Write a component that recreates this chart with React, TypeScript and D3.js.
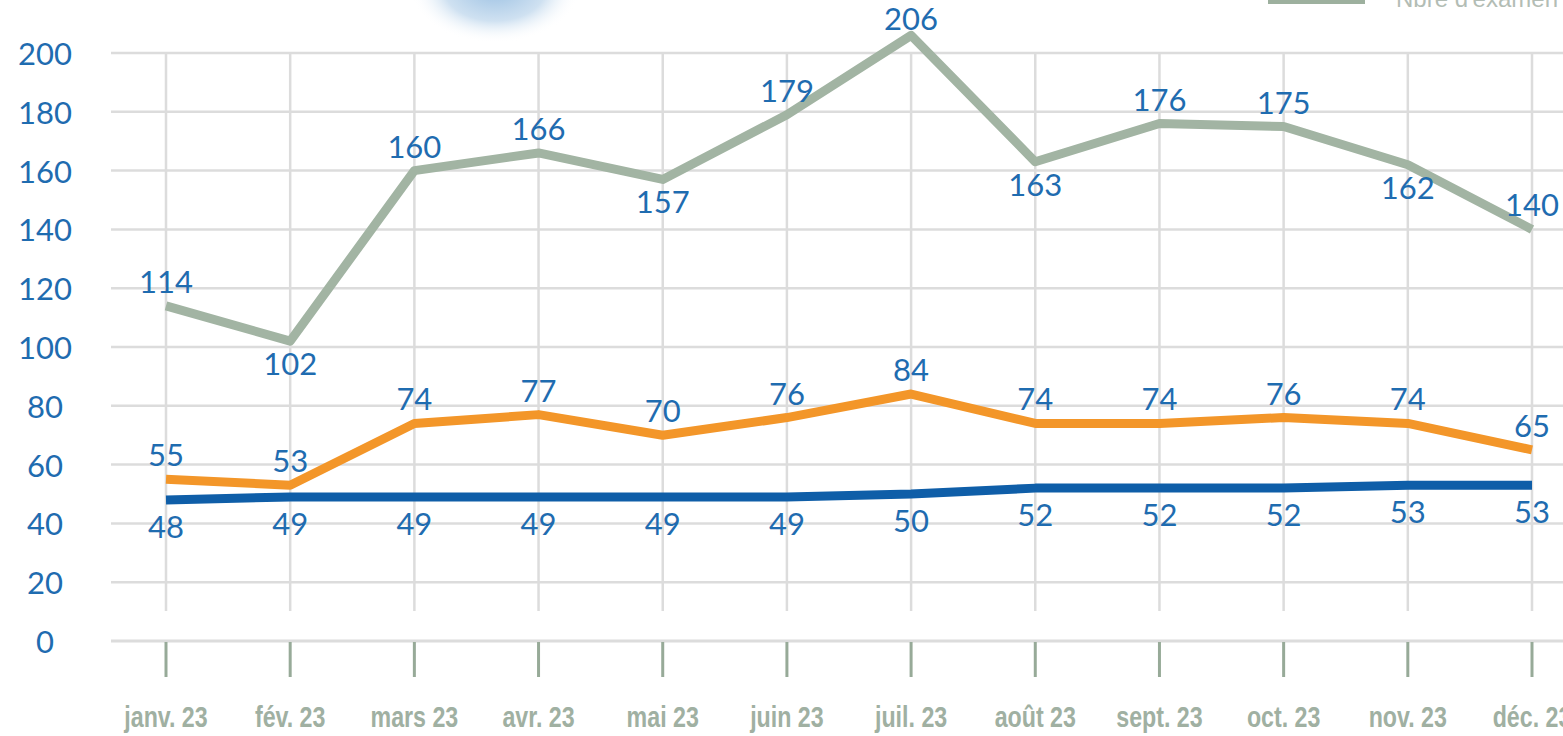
import React from 'react'
import * as d3 from 'd3'

const months = ['janv. 23', 'fév. 23', 'mars 23', 'avr. 23', 'mai 23', 'juin 23', 'juil. 23', 'août 23', 'sept. 23', 'oct. 23', 'nov. 23', 'déc. 23']
const examens = [114, 102, 160, 166, 157, 179, 206, 163, 176, 175, 162, 140]
const orangeSerie = [55, 53, 74, 77, 70, 76, 84, 74, 74, 76, 74, 65]
const blueSerie = [48, 49, 49, 49, 49, 49, 50, 52, 52, 52, 53, 53]
// label sits above (1) or below (-1) the grey line
const examensSide = [1, -1, 1, 1, -1, 1, 1, -1, 1, 1, -1, 1]
const yTicks = [0, 20, 40, 60, 80, 100, 120, 140, 160, 180, 200]

const W = 1563
const H = 736

export default function App() {
    const x = d3.scalePoint<string>().domain(months).range([166, 1532])
    const y = d3.scaleLinear().domain([0, 200]).range([641, 53])

    const line = d3.line<number>()
        .x((d, i) => x(months[i]) as number)
        .y(d => y(d))

    const series = [
        { values: examens, color: '#a2b4a3', sides: examensSide },
        { values: orangeSerie, color: '#f39629', sides: orangeSerie.map(() => 1) },
        { values: blueSerie, color: '#0f5ea8', sides: blueSerie.map(() => -1) },
    ]

    const labelFont = 'Lato, "Open Sans", sans-serif'

    return (
        <svg width={W} height={H} style={{ position: 'absolute', left: 0, top: 0, background: '#fff' }}>
            <defs>
                <radialGradient id="blob" cx="50%" cy="50%" r="50%">
                    <stop offset="0%" stopColor="#9cc1e3" />
                    <stop offset="60%" stopColor="#cfe1f1" />
                    <stop offset="100%" stopColor="#ffffff" stopOpacity={0} />
                </radialGradient>
            </defs>
            <ellipse cx={495} cy={-12} rx={85} ry={55} fill="url(#blob)" />

            {/* legend, cut off at top */}
            <rect x={1268} y={-6} width={97} height={10} fill="#9db09e" />
            <text x={1396} y={7} fontFamily={'"Liberation Sans", Arial, sans-serif'} fontSize={24} fill="#b3bdb5">Nbre d'examen</text>

            {/* horizontal grid */}
            {yTicks.map(t => (
                <line key={t} x1={111} x2={W} y1={y(t)} y2={y(t)} stroke="#dcdcdc" strokeWidth={t === 0 ? 3 : 2.5} />
            ))}
            {/* vertical grid */}
            {months.map(m => (
                <line key={m} x1={x(m)} x2={x(m)} y1={y(200)} y2={611} stroke="#dcdcdc" strokeWidth={2.5} />
            ))}
            {/* tick marks below the axis */}
            {months.map(m => (
                <line key={'t' + m} x1={x(m)} x2={x(m)} y1={y(0) + 1} y2={677} stroke="#97aa98" strokeWidth={3} />
            ))}

            {yTicks.map(t => (
                <text key={'l' + t} x={45} y={y(t) + 12} textAnchor="middle" fontFamily={labelFont} fontSize={31} fill="#1f6cb0">{t}</text>
            ))}

            {months.map(m => (
                <text key={'x' + m} x={x(m)} y={727} textAnchor="middle" fontFamily={'"Liberation Sans Narrow", "Liberation Sans", sans-serif'}
                    fontSize={29} fontWeight="bold" fill="#a0b0a2"
                    transform={`translate(${x(m)},0) scale(0.8,1) translate(${-(x(m) as number)},0)`}>{m}</text>
            ))}

            {series.map((s, k) => (
                <path key={'p' + k} d={line(s.values) || ''} fill="none" stroke={s.color} strokeWidth={9} strokeLinejoin="round" />
            ))}

            {series.map((s, k) => s.values.map((v, i) => (
                <text key={`v${k}-${i}`} x={x(months[i])}
                    y={s.sides[i] > 0 ? Math.max(30, y(v) - 13) : y(v) + (k === 2 ? 38 : 34)}
                    textAnchor="middle" fontFamily={labelFont} fontSize={31} fill="#1f6cb0">{v}</text>
            )))}
        </svg>
    )
}
